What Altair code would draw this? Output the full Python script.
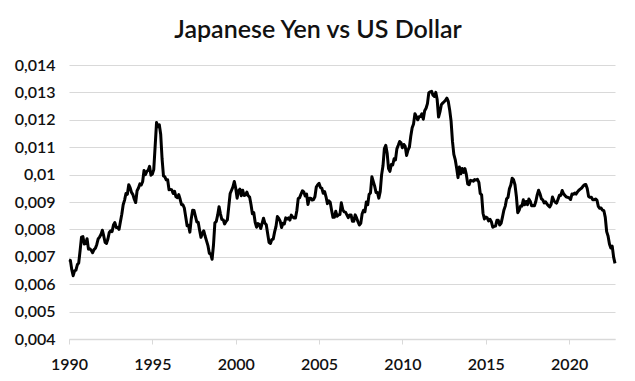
import altair as alt
import pandas as pd

START_YEAR = 1990

# Monthly values, USD per JPY, Jan 1990 .. Oct 2022
values = [
    # 1990
    0.00689, 0.00687, 0.00653, 0.00631, 0.00649, 0.00651, 0.00671, 0.00678, 0.00723, 0.00772, 0.00774, 0.00747,
    # 1991
    0.00748, 0.00766, 0.00728, 0.00729, 0.00724, 0.00715, 0.00726, 0.00731, 0.00745, 0.00765, 0.00772, 0.00781,
    # 1992
    0.00797, 0.00776, 0.00752, 0.00749, 0.00765, 0.00789, 0.00795, 0.00792, 0.00816, 0.00825, 0.00807, 0.00807,
    # 1993
    0.00800, 0.00828, 0.00855, 0.00890, 0.00907, 0.00931, 0.00928, 0.00963, 0.00952, 0.00935, 0.00927, 0.00910,
    # 1994
    0.00898, 0.00941, 0.00951, 0.00966, 0.00962, 0.00974, 0.01015, 0.01000, 0.01012, 0.01016, 0.01030, 0.00998,
    # 1995
    0.01002, 0.01018, 0.01103, 0.01190, 0.01175, 0.01182, 0.01147, 0.01057, 0.00995, 0.00992, 0.00981, 0.00981,
    # 1996
    0.00945, 0.00946, 0.00944, 0.00931, 0.00939, 0.00919, 0.00916, 0.00927, 0.00910, 0.00890, 0.00890, 0.00878,
    # 1997
    0.00846, 0.00813, 0.00815, 0.00790, 0.00839, 0.00870, 0.00869, 0.00848, 0.00827, 0.00826, 0.00797, 0.00771,
    # 1998
    0.00785, 0.00795, 0.00775, 0.00758, 0.00741, 0.00713, 0.00711, 0.00691, 0.00743, 0.00824, 0.00829, 0.00852,
    # 1999
    0.00883, 0.00857, 0.00837, 0.00835, 0.00820, 0.00829, 0.00835, 0.00883, 0.00931, 0.00943, 0.00955, 0.00975,
    # 2000
    0.00950, 0.00914, 0.00941, 0.00947, 0.00923, 0.00943, 0.00924, 0.00925, 0.00936, 0.00923, 0.00918, 0.00891,
    # 2001
    0.00857, 0.00861, 0.00826, 0.00808, 0.00821, 0.00818, 0.00803, 0.00822, 0.00841, 0.00823, 0.00817, 0.00784,
    # 2002
    0.00752, 0.00749, 0.00763, 0.00765, 0.00791, 0.00811, 0.00847, 0.00840, 0.00830, 0.00807, 0.00822, 0.00820,
    # 2003
    0.00842, 0.00838, 0.00842, 0.00834, 0.00852, 0.00845, 0.00842, 0.00842, 0.00869, 0.00913, 0.00916, 0.00929,
    # 2004
    0.00941, 0.00937, 0.00922, 0.00929, 0.00891, 0.00914, 0.00914, 0.00907, 0.00909, 0.00919, 0.00955, 0.00963,
    # 2005
    0.00968, 0.00953, 0.00950, 0.00932, 0.00938, 0.00919, 0.00894, 0.00904, 0.00899, 0.00870, 0.00844, 0.00844,
    # 2006
    0.00866, 0.00848, 0.00853, 0.00854, 0.00897, 0.00873, 0.00864, 0.00863, 0.00853, 0.00843, 0.00853, 0.00853,
    # 2007
    0.00830, 0.00830, 0.00853, 0.00842, 0.00828, 0.00816, 0.00822, 0.00857, 0.00870, 0.00864, 0.00900, 0.00890,
    # 2008
    0.00928, 0.00933, 0.00992, 0.00975, 0.00958, 0.00935, 0.00935, 0.00914, 0.00938, 0.00999, 0.01032, 0.01095,
    # 2009
    0.01107, 0.01078, 0.01022, 0.01012, 0.01037, 0.01035, 0.01058, 0.01054, 0.01094, 0.01107, 0.01121, 0.01116,
    # 2010
    0.01098, 0.01110, 0.01103, 0.01070, 0.01089, 0.01100, 0.01140, 0.01171, 0.01185, 0.01222, 0.01212, 0.01200,
    # 2011
    0.01211, 0.01212, 0.01222, 0.01202, 0.01233, 0.01242, 0.01259, 0.01299, 0.01302, 0.01304, 0.01290, 0.01285,
    # 2012
    0.01300, 0.01274, 0.01210, 0.01229, 0.01255, 0.01261, 0.01266, 0.01271, 0.01279, 0.01267, 0.01236, 0.01196,
    # 2013
    0.01122, 0.01074, 0.01055, 0.01024, 0.00989, 0.01028, 0.01003, 0.01022, 0.01008, 0.01022, 0.01000, 0.00966,
    # 2014
    0.00963, 0.00979, 0.00978, 0.00976, 0.00982, 0.00980, 0.00983, 0.00972, 0.00931, 0.00926, 0.00859, 0.00838,
    # 2015
    0.00845, 0.00842, 0.00831, 0.00837, 0.00828, 0.00808, 0.00811, 0.00812, 0.00833, 0.00833, 0.00816, 0.00822,
    # 2016
    0.00845, 0.00870, 0.00885, 0.00912, 0.00917, 0.00948, 0.00962, 0.00987, 0.00981, 0.00963, 0.00921, 0.00861,
    # 2017
    0.00870, 0.00885, 0.00885, 0.00908, 0.00890, 0.00902, 0.00890, 0.00911, 0.00903, 0.00886, 0.00887, 0.00886,
    # 2018
    0.00902, 0.00926, 0.00943, 0.00930, 0.00912, 0.00908, 0.00897, 0.00901, 0.00893, 0.00887, 0.00882, 0.00891,
    # 2019
    0.00918, 0.00905, 0.00899, 0.00896, 0.00910, 0.00925, 0.00924, 0.00942, 0.00930, 0.00924, 0.00918, 0.00917,
    # 2020
    0.00915, 0.00909, 0.00929, 0.00928, 0.00933, 0.00929, 0.00937, 0.00943, 0.00947, 0.00951, 0.00958, 0.00963,
    # 2021
    0.00964, 0.00949, 0.00920, 0.00917, 0.00917, 0.00908, 0.00908, 0.00911, 0.00907, 0.00884, 0.00877, 0.00878,
    # 2022
    0.00870, 0.00868, 0.00844, 0.00792, 0.00776, 0.00747, 0.00732, 0.00739, 0.00699, 0.00676,
]

year_ticks = [1990, 1995, 2000, 2005, 2010, 2015, 2020]
value_ticks = [0.004, 0.005, 0.006, 0.007, 0.008, 0.009, 0.010, 0.011, 0.012, 0.013, 0.014]

df = pd.DataFrame({
    "t": [START_YEAR + i / 12 for i in range(len(values))],
    "v": values,
})

FONT = "Lato"

chart = alt.Chart(df).mark_line(color="black", strokeWidth=3, strokeJoin="round").encode(
    x=alt.X("t:Q",
            scale=alt.Scale(domain=[1990, 2022.75], nice=False, zero=False),
            axis=alt.Axis(values=year_ticks, format="d", title=None, grid=False,
                          domain=True, domainColor="#d9d9d9", domainWidth=1.5,
                          ticks=True, tickColor="#d9d9d9", tickSize=5, tickWidth=1,
                          labelFlush=False, labelPadding=12, labelFontSize=16,
                          labelColor="#111111", labelFont=FONT, labelFontWeight=600)),
    y=alt.Y("v:Q",
            scale=alt.Scale(domain=[0.004, 0.014], nice=False, zero=False),
            axis=alt.Axis(values=value_ticks, title=None, grid=True, gridColor="#d9d9d9",
                          gridWidth=1, domain=False, ticks=False, labelPadding=14,
                          labelFlush=False, labelFontSize=16, labelColor="#111111",
                          labelFont=FONT, labelFontWeight=600,
                          labelExpr="replace(format(datum.value, '~g'), '.', ',')")),
).properties(
    width=546,
    height=274,
    autosize=alt.AutoSizeParams(type="none"),
    padding={"left": 61, "top": 57, "right": 12, "bottom": 34},
    title=alt.TitleParams("Japanese Yen vs US Dollar", font=FONT, fontSize=25,
                          fontWeight=600, color="#111111", anchor="middle",
                          dx=-24, offset=14),
).configure_view(stroke=None)

chart.save("out.html", embed_options={"renderer": "svg", "actions": False})
